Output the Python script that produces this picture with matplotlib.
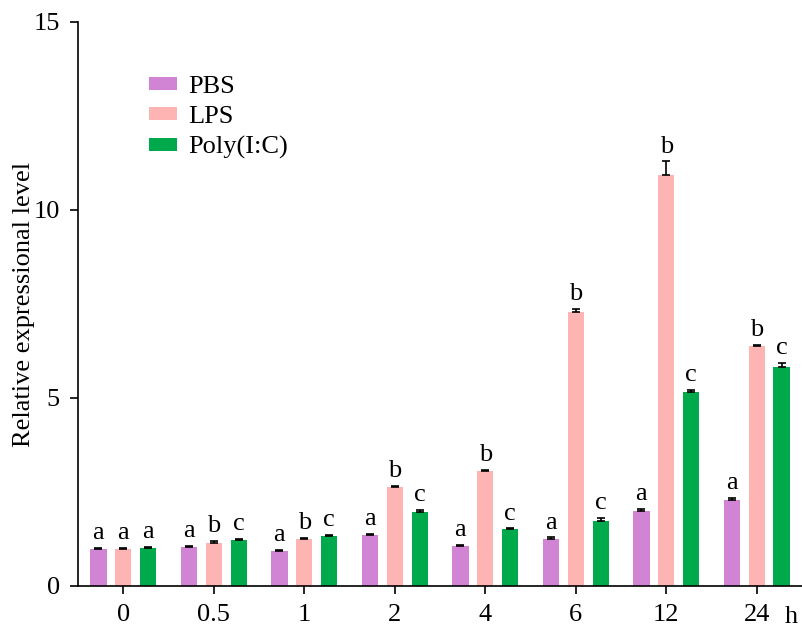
import numpy as np
import matplotlib.pyplot as plt
from matplotlib import font_manager

# make sure a Times-like serif font is registered
for path in font_manager.findSystemFonts():
    low = path.lower()
    if 'liberationserif' in low.replace('-', '').replace('_', '') or 'liberation serif' in low:
        font_manager.fontManager.addfont(path)
plt.rcParams['font.family'] = ['Liberation Serif', 'DejaVu Serif']

# Data
times = ['0', '0.5', '1', '2', '4', '6', '12', '24']
series = ['PBS', 'LPS', 'Poly(I:C)']
pbs = [0.98, 1.03, 0.94, 1.35, 1.06, 1.26, 1.99, 2.28]
lps = [0.99, 1.15, 1.26, 2.64, 3.07, 7.29, 10.94, 6.38]
polyic = [1.00, 1.23, 1.32, 1.98, 1.51, 1.73, 5.16, 5.83]
pbs_err = [0.04, 0.03, 0.03, 0.03, 0.03, 0.03, 0.06, 0.07]
lps_err = [0.02, 0.04, 0.02, 0.03, 0.02, 0.08, 0.35, 0.04]
polyic_err = [0.03, 0.02, 0.03, 0.05, 0.02, 0.08, 0.06, 0.10]
pbs_sig = ['a'] * 8
lps_sig = ['a', 'b', 'b', 'b', 'b', 'b', 'b', 'b']
polyic_sig = ['a', 'c', 'c', 'c', 'c', 'c', 'c', 'c']

colors = ['#D184D3', '#FFB4B4', '#00A94B']

fig = plt.figure(figsize=(8.02, 6.29), dpi=100)
ax = fig.add_axes([0.0973, 0.0684, 0.9027, 0.8967])

x = np.arange(len(times))
offset = 0.275
width = 0.18

vals = [pbs, lps, polyic]
errs = [pbs_err, lps_err, polyic_err]
sigs = [pbs_sig, lps_sig, polyic_sig]

for i, (v, e, s) in enumerate(zip(vals, errs, sigs)):
    pos = x + (i - 1) * offset
    ax.bar(pos, v, width, color=colors[i], label=series[i], zorder=2)
    ax.errorbar(pos, v, yerr=[np.zeros(len(e)), e], fmt='none', ecolor='black',
                elinewidth=1.2, capsize=3, capthick=1.2, zorder=3)
    for p, val, err, lab in zip(pos, v, e, s):
        ax.text(p, val + err + 0.1, lab, ha='center', va='bottom', fontsize=19)

ax.set_xlim(-0.5, 7.5)
ax.set_ylim(0, 15)
ax.set_yticks([0, 5, 10, 15])
ax.set_xticks(x)
ax.set_xticklabels(times)
ax.tick_params(axis='both', labelsize=19, direction='out', length=6, width=1.2, pad=7)
ax.spines['top'].set_visible(False)
ax.spines['right'].set_visible(False)
ax.spines['left'].set_linewidth(1.2)
ax.spines['bottom'].set_linewidth(1.2)
ax.set_ylabel('Relative expressional level', fontsize=19)
ax.yaxis.set_label_coords(-0.06, 0.5)

ax.text(0.994, -0.0745, 'h', transform=ax.transAxes, fontsize=19, ha='right', va='bottom')

ax.legend(loc='upper left', bbox_to_anchor=(0.065, 0.946), frameon=False, fontsize=19,
          handlelength=1.05, handleheight=0.4, labelspacing=0.3, handletextpad=0.45)

fig.savefig('out.png', dpi=100)
